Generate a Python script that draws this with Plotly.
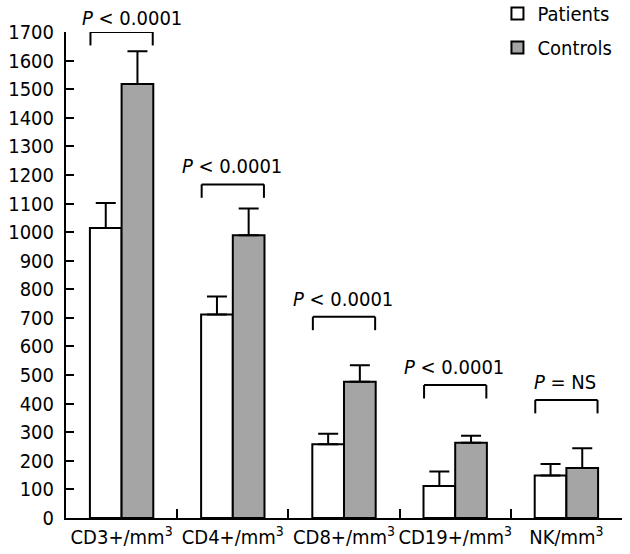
import plotly.graph_objects as go

categories = ["CD3+/mm<sup>3</sup>", "CD4+/mm<sup>3</sup>", "CD8+/mm<sup>3</sup>",
              "CD19+/mm<sup>3</sup>", "NK/mm<sup>3</sup>"]
patients = [1014, 712, 258, 112, 149]
patients_err = [88, 63, 37, 51, 40]
controls = [1518, 989, 477, 263, 175]
controls_err = [115, 94, 57, 25, 69]
p_labels = ["<i>P</i> &lt; 0.0001", "<i>P</i> &lt; 0.0001", "<i>P</i> &lt; 0.0001",
            "<i>P</i> &lt; 0.0001", "<i>P</i> = NS"]
bracket_top = [1700, 1167, 704, 465, 413]
bracket_drop = 47
y_ticks = list(range(0, 1701, 100))

FONT = "DejaVu Sans Condensed, DejaVu Sans, sans-serif"

fig = go.Figure()
fig.add_trace(go.Bar(
    name="Patients", x=categories, y=patients, legendgroup="p",
    marker=dict(color="white", line=dict(color="black", width=2)),
    error_y=dict(type="data", symmetric=False, array=patients_err,
                 arrayminus=[0] * len(patients), color="black", thickness=2, width=10),
))
fig.add_trace(go.Bar(
    name="Controls", x=categories, y=controls, legendgroup="c",
    marker=dict(color="#a5a5a5", line=dict(color="black", width=2)),
    error_y=dict(type="data", symmetric=False, array=controls_err,
                 arrayminus=[0] * len(controls), color="black", thickness=2, width=10),
))

shapes = []
annotations = []
for i, (top, lab) in enumerate(zip(bracket_top, p_labels)):
    x0, x1 = i - 0.28, i + 0.28
    for (a, b, c, d) in [(x0, top - bracket_drop, x0, top), (x0, top, x1, top),
                         (x1, top, x1, top - bracket_drop)]:
        shapes.append(dict(type="line", xref="x", yref="y", x0=a, y0=b, x1=c, y1=d,
                           line=dict(color="black", width=2)))
    annotations.append(dict(x=i, y=top, xref="x", yref="y", text=lab, showarrow=False,
                            yanchor="middle", yshift=14 if i == 0 else 18,
                            xshift=10 if i == 0 else -1,
                            font=dict(family=FONT, size=20, color="black")))

fig.update_layout(
    width=630, height=554,
    margin=dict(l=66, r=8, t=32, b=36, autoexpand=False),
    paper_bgcolor="white", plot_bgcolor="white",
    barmode="group", bargap=0.43, bargroupgap=0,
    font=dict(family=FONT, size=20, color="black"),
    showlegend=True,
    legend=dict(x=0.776, xanchor="left", y=1.078, yanchor="top",
                traceorder="grouped", tracegroupgap=5,
                bgcolor="rgba(0,0,0,0)", font=dict(size=20, family=FONT)),
    shapes=shapes, annotations=annotations,
    xaxis=dict(type="category", range=[-0.5, 4.5], tickson="boundaries",
               ticks="inside", ticklen=9, tickwidth=2, tickcolor="black",
               showline=True, linecolor="black", linewidth=2, showgrid=False,
               tickangle=0, automargin=False,
               tickfont=dict(size=20, family=FONT)),
    yaxis=dict(range=[0, 1700], tickvals=y_ticks, ticks="inside", ticklen=8,
               tickwidth=2, tickcolor="black", showline=True, linecolor="black",
               linewidth=2, showgrid=False, zeroline=False, automargin=False,
               ticklabelstandoff=6,
               tickfont=dict(size=20, family=FONT)),
)

# remove the browser's default 8px body margin so the figure fills the window
fig.write_html("out.html", config={"displayModeBar": False},
               post_script="document.body.style.margin='0px';")
